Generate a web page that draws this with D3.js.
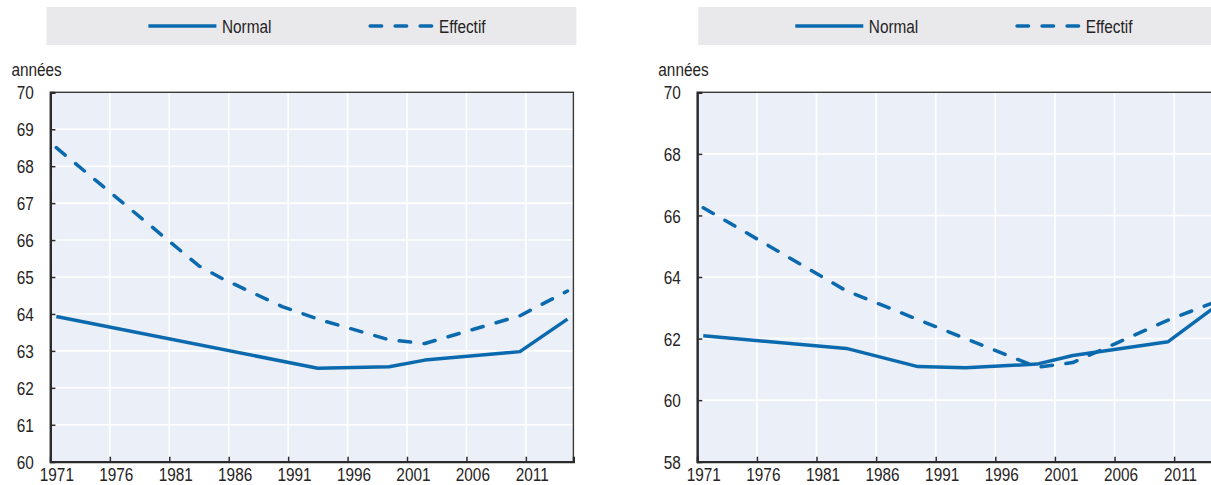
<!DOCTYPE html>
<html>
<head>
<meta charset="utf-8">
<script src="https://cdn.jsdelivr.net/npm/d3@7"></script>
<style>
  html, body { margin: 0; padding: 0; background: #ffffff; }
  svg { display: block; }
  text { font-family: "Liberation Sans Narrow", "Arial Narrow", "Liberation Sans", Arial, sans-serif; fill: #262324; }
</style>
</head>
<body>
<svg id="chart" width="1211" height="485"></svg>
<script>
// ---- Data ----
const seriesNames = ["Normal", "Effectif"];
const unitLabel = "années";
const xTickYears = [1971, 1976, 1981, 1986, 1991, 1996, 2001, 2006, 2011];

// Left panel
const leftYTicks = [60, 61, 62, 63, 64, 65, 66, 67, 68, 69, 70];
const leftNormalYears = [1971, 1993, 1999, 2002, 2010, 2014];
const leftNormalValues = [63.93, 62.53, 62.57, 62.75, 62.98, 63.86];
const leftEffectifYears = [1971, 1983, 1985, 1990, 1993, 1999, 2002, 2010, 2014];
const leftEffectifValues = [68.5, 65.3, 64.95, 64.2, 63.86, 63.3, 63.2, 63.95, 64.62];

// Right panel
const rightYTicks = [58, 60, 62, 64, 66, 68, 70];
const rightNormalYears = [1971, 1983, 1989, 1993, 1999, 2002, 2010, 2014];
const rightNormalValues = [62.09, 61.68, 61.09, 61.05, 61.17, 61.45, 61.9, 63.05];
const rightEffectifYears = [1971, 1983, 1999, 2002, 2010, 2014];
const rightEffectifValues = [66.25, 63.55, 61.07, 61.22, 62.6, 63.2];

// ---- Drawing ----
const svg = d3.select("#chart");
const lineColor = "#0b6aae";
const plotBg = "#ebeff8";
const legendBg = "#e9e9eb";
const axisColor = "#2b2b2b";
const textColor = "#262324";
const fontSize = 18.5;
const narrow = 0.83; // horizontal condensing to mimic a narrow typeface
const firstYear = 1971, lastYear = 2015;

function toPoints(years, values) { return years.map((y, i) => ({ year: y, value: values[i] })); }

function narrowText(sel, x, y, anchor) {
  return sel.attr("x", 0).attr("y", 0)
    .attr("transform", `translate(${x},${y}) scale(${narrow},1)`)
    .attr("text-anchor", anchor || "start")
    .attr("font-size", fontSize).attr("fill", textColor);
}

function panel(opts) {
  const g = svg.append("g");
  const x = d3.scaleLinear().domain([firstYear, lastYear]).range([opts.left, opts.left + opts.width]);
  const y = d3.scaleLinear().domain([opts.yTicks[0], opts.yTicks[opts.yTicks.length - 1]]).range([opts.bottom, opts.top]);
  const step = x(firstYear + 1) - x(firstYear);

  // legend
  const lg = g.append("g");
  lg.append("rect").attr("x", opts.left + opts.legendShift).attr("y", 7).attr("width", opts.width + 3 - opts.legendShift).attr("height", 38).attr("fill", legendBg);
  const legendDefs = [
    { name: seriesNames[0], x1: opts.left + 98, x2: opts.left + 166, dash: null },
    { name: seriesNames[1], x1: opts.left + 318, x2: opts.left + 383, dash: "11.5,13.5" }
  ];
  legendDefs.forEach(d => {
    lg.append("line").attr("x1", d.x1 + (d.dash ? 1.75 : 0)).attr("x2", d.x2 - (d.dash ? 1.75 : 0)).attr("y1", 26).attr("y2", 26)
      .attr("stroke", lineColor).attr("stroke-width", 3.5)
      .attr("stroke-linecap", d.dash ? "round" : "butt")
      .attr("stroke-dasharray", d.dash);
    narrowText(lg.append("text").text(d.name), d.x2 + 5.5, 32.5);
  });

  // unit label
  narrowText(g.append("text").text(unitLabel), opts.left - 39, 75.5);

  // plot background
  g.append("rect").attr("x", opts.left).attr("y", opts.top).attr("width", opts.width).attr("height", opts.bottom - opts.top).attr("fill", plotBg);

  // grid
  g.append("g").selectAll("line").data(opts.yTicks.slice(1, -1)).join("line")
    .attr("x1", opts.left).attr("x2", opts.left + opts.width)
    .attr("y1", d => y(d)).attr("y2", d => y(d))
    .attr("stroke", "#ffffff").attr("stroke-width", 1.6);
  g.append("g").selectAll("line").data(xTickYears.slice(1)).join("line")
    .attr("x1", d => x(d)).attr("x2", d => x(d))
    .attr("y1", opts.top).attr("y2", opts.bottom)
    .attr("stroke", "#ffffff").attr("stroke-width", 1.6);

  // frame
  g.append("rect").attr("x", opts.left).attr("y", opts.top).attr("width", opts.width).attr("height", opts.bottom - opts.top)
    .attr("fill", "none").attr("stroke", "#3a3a3a").attr("stroke-width", 1.4);

  // axes
  const xAxis = d3.axisBottom(x).tickValues(xTickYears).tickSize(-5).tickPadding(0).tickFormat(d3.format("d"));
  const xa = g.append("g").attr("transform", `translate(0,${opts.bottom})`).call(xAxis);
  xa.attr("font-family", null).attr("font-size", null);
  xa.select(".domain").attr("stroke", axisColor).attr("stroke-width", 2.2);
  xa.selectAll(".tick line").attr("stroke", axisColor).attr("stroke-width", 1.5);
  xa.selectAll(".tick text").each(function () {
    narrowText(d3.select(this), step / 2, 19.5, "middle").attr("dy", 0);
  });

  const yAxis = d3.axisLeft(y).tickValues(opts.yTicks).tickSize(-5).tickPadding(0).tickFormat(d3.format("d"));
  const ya = g.append("g").attr("transform", `translate(${opts.left},0)`).call(yAxis);
  ya.attr("font-family", null).attr("font-size", null);
  ya.select(".domain").attr("stroke", axisColor).attr("stroke-width", 2.2);
  ya.selectAll(".tick line").attr("stroke", axisColor).attr("stroke-width", 1.5);
  ya.selectAll(".tick text").each(function () {
    narrowText(d3.select(this), -16.5, 0, "end").attr("dy", "0.36em");
  });

  // lines
  const line = d3.line().x(d => x(d.year + 0.5)).y(d => y(d.value));
  g.append("path").datum(toPoints(opts.normalYears, opts.normalValues))
    .attr("d", line).attr("fill", "none").attr("stroke", lineColor).attr("stroke-width", 3.5)
    .attr("stroke-linejoin", "round");
  g.append("path").datum(toPoints(opts.effYears, opts.effValues))
    .attr("d", line).attr("fill", "none").attr("stroke", lineColor).attr("stroke-width", 3.5)
    .attr("stroke-linejoin", "round").attr("stroke-linecap", "round").attr("stroke-dasharray", "11.5,13.5");
}

panel({
  left: 50.4, width: 523, top: 92.3, bottom: 461.7, legendShift: -4,
  yTicks: leftYTicks,
  normalYears: leftNormalYears, normalValues: leftNormalValues,
  effYears: leftEffectifYears, effValues: leftEffectifValues
});
panel({
  left: 697.3, width: 524.5, top: 92.3, bottom: 461.7, legendShift: 1,
  yTicks: rightYTicks,
  normalYears: rightNormalYears, normalValues: rightNormalValues,
  effYears: rightEffectifYears, effValues: rightEffectifValues
});
</script>
</body>
</html>
